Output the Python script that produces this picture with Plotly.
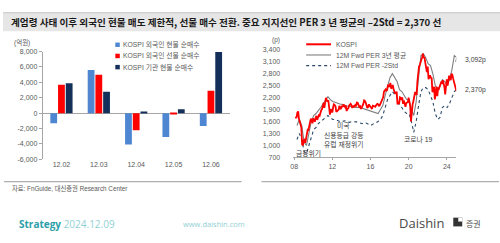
import plotly.graph_objects as go
import pandas as pd

# ---------------- data ----------------
bar_dates = ["12.02", "12.03", "12.04", "12.05", "12.06"]
foreign_spot = [-1300, 5600, -4050, -3100, -1650]
foreign_fut = [3700, 5000, -2200, -100, 2900]
inst_spot = [3900, 2800, 150, 500, 7950]
bar_names = ["KOSPI 외국인 현물 순매수", "KOSPI 외국인 선물 순매수", "KOSPI 기관 현물 순매수"]
left_tickvals = [-6000, -4000, -2000, 0, 2000, 4000, 6000, 8000]
left_ticktext = ["-6,000", "-4,000", "-2,000", "0", "2,000", "4,000", "6,000", "8,000"]

kospi = [
    1700, 1711, 1704, 1825, 1852, 1674, 1595, 1474, 1448, 1020, 1000, 1124,
    1162, 1063, 1206, 1369, 1395, 1390, 1557, 1591, 1673, 1580, 1555, 1682,
    1602, 1594, 1692, 1741, 1641, 1698, 1759, 1742, 1873, 1882, 1905, 2051,
    2069, 1939, 2107, 2192, 2142, 2101, 2133, 1880, 1770, 1909, 1848, 1826,
    1956, 2030, 2014, 1982, 1843, 1854, 1881, 1905, 1996, 1912, 1933, 1997,
    1962, 2026, 2005, 1964, 2001, 1863, 1915, 1926, 1997, 2030, 2045, 2011,
    1941, 1980, 1986, 1961, 2017, 2002, 2076, 2068, 2020, 1964, 1981, 1916,
    1949, 1986, 2041, 2127, 2114, 2074, 2030, 1941, 1963, 2029, 1992, 1961,
    1912, 1917, 1996, 1994, 1983, 1970, 2016, 2034, 2043, 2008, 1983, 2026,
    2067, 2091, 2160, 2205, 2347, 2392, 2402, 2363, 2394, 2523, 2476, 2467,
    2566, 2427, 2445, 2515, 2423, 2326, 2295, 2322, 2343, 2029, 2096, 2041,
    2204, 2195, 2140, 2203, 2041, 2130, 2025, 1967, 2063, 2083, 2087, 2197,
    2119, 1987, 1600, 1947, 2029, 2108, 2249, 2326, 2327, 2267, 2591, 2873,
    2976, 3013, 3061, 3147, 3204, 3296, 3202, 3199, 3068, 2970, 2839, 2977,
    2663, 2699, 2757, 2695, 2685, 2332, 2451, 2472, 2155, 2293, 2472, 2236,
    2425, 2412, 2476, 2501, 2577, 2564, 2632, 2556, 2465, 2277, 2535, 2655,
    2497, 2642, 2747, 2692, 2636, 2798, 2770, 2674, 2593, 2556, 2456, 2370,
]
kospi_dates = pd.date_range("2008-01-31", periods=len(kospi), freq="ME")

per_avg = [
    1500, 1650, 1500, 1080,
    1000, 1350, 1600, 1750,
    1800, 1880, 1950, 2050,
    2150, 2220, 2150, 2100,
    2080, 2050, 2040, 2030,
    2000, 1990, 1980, 1970,
    1960, 1950, 1960, 1940,
    1920, 1900, 1880, 1860,
    1850, 1840, 1800, 1900,
    2000, 2250, 2450, 2700,
    2800, 2700, 2600, 2400,
    2350, 2250, 2150, 2150,
    1900, 1750, 2100, 2700,
    3250, 3300, 3200, 3050,
    3000, 2800, 2500, 2400,
    2500, 2650, 2600, 2500,
    2650, 2900, 3250, 3200, 3092,
]
per_m2std = [
    1150, 1300, 1150, 850,
    800, 1000, 1250, 1400,
    1450, 1550, 1600, 1650,
    1700, 1750, 1700, 1650,
    1650, 1620, 1600, 1600,
    1620, 1600, 1580, 1600,
    1600, 1590, 1570, 1560,
    1540, 1560, 1520, 1500,
    1540, 1560, 1600, 1650,
    1750, 1950, 2150, 2250,
    2350, 2280, 2200, 2000,
    1950, 1850, 1800, 1800,
    1600, 1330, 1600, 2000,
    2350, 2450, 2450, 2400,
    2250, 2100, 1800, 1650,
    1700, 1950, 2000, 1950,
    2050, 2200, 2350, 2400, 2370,
]
per_dates = list(pd.date_range("2008-01-15", periods=68, freq="QS-JAN") + pd.Timedelta(days=14)) + [pd.Timestamp("2024-12-06")]
line_names = ["KOSPI", "12M Fwd PER 3년 평균", "12M Fwd PER -2Std"]
right_tickvals = [700, 1000, 1300, 1600, 1900, 2200, 2500, 2800, 3100, 3400]
right_ticktext = ["700", "1,000", "1,300", "1,600", "1,900", "2,200", "2,500", "2,800", "3,100", "3,400"]
year_ticks = ["2008-01-01", "2012-01-01", "2016-01-01", "2020-01-01", "2024-01-01"]
year_text = ["08", "12", "16", "20", "24"]

# ---------------- style ----------------
W, H = 500, 243
def px(x): return x / W
def py(y): return 1 - y / H

FONT = "Liberation Sans, Noto Sans CJK KR"
KFONT = "Noto Sans CJK KR"
TXT = "#595959"
AX = "#A6A6A6"
BLUE, RED, NAVY = "#4F86D2", "#FF0000", "#14305A"
GRAY_L, NAVY_L = "#7F7F7F", "#2B4A6A"

fig = go.Figure()
for vals, name, col in zip([foreign_spot, foreign_fut, inst_spot], bar_names, [BLUE, RED, NAVY]):
    fig.add_trace(go.Bar(x=bar_dates, y=vals, name=name, marker_color=col,
                         marker_line_width=0, xaxis="x", yaxis="y", showlegend=False))

fig.add_trace(go.Scatter(x=per_dates, y=per_m2std, mode="lines", name=line_names[2],
                         line=dict(color=NAVY_L, width=1.1, dash="dot"), xaxis="x2", yaxis="y2", showlegend=False))
fig.add_trace(go.Scatter(x=per_dates, y=per_avg, mode="lines", name=line_names[1],
                         line=dict(color=GRAY_L, width=1.1), xaxis="x2", yaxis="y2", showlegend=False))
fig.add_trace(go.Scatter(x=kospi_dates, y=kospi, mode="lines", name=line_names[0],
                         line=dict(color=RED, width=1.8), xaxis="x2", yaxis="y2", showlegend=False))

shapes = []
annotations = []

# header bar
shapes.append(dict(type="rect", xref="paper", yref="paper", x0=0, x1=1, y0=py(28), y1=py(9),
                   fillcolor="#E6E6E6", line_width=0, layer="below"))
shapes.append(dict(type="line", xref="paper", yref="paper", x0=0, x1=1, y0=py(9), y1=py(9),
                   line=dict(color="#C4C4C4", width=1)))
annotations.append(dict(xref="paper", yref="paper", x=px(6), y=py(19), xanchor="left", yanchor="middle",
                        showarrow=False, text="<b>계엄령 사태 이후 외국인 현물 매도 제한적, 선물 매수 전환. 중요 지지선인 PER 3 년 평균의 –2Std = 2,370 선</b>",
                        font=dict(family=KFONT, size=9.6, color="#1A1A1A")))

# left legend
for i, (name, col) in enumerate(zip(bar_names, [BLUE, RED, NAVY])):
    yc = [42, 53.5, 65][i]
    shapes.append(dict(type="rect", xref="paper", yref="paper", x0=px(113), x1=px(117.5),
                       y0=py(yc + 2.3), y1=py(yc - 2.3), fillcolor=col, line_width=0))
    annotations.append(dict(xref="paper", yref="paper", x=px(119), y=py(yc), xanchor="left", yanchor="middle",
                            showarrow=False, text=name, font=dict(family=FONT, size=6.8, color=TXT)))
annotations.append(dict(xref="paper", yref="paper", x=px(9), y=py(40), xanchor="left", yanchor="middle",
                        showarrow=False, text="(억원)", font=dict(family=FONT, size=6.5, color=TXT)))

# right legend
leg_styles = [dict(color=RED, width=2), dict(color=GRAY_L, width=1.1), dict(color=NAVY_L, width=1.1, dash="dot")]
for i, (name, st) in enumerate(zip(line_names, leg_styles)):
    yc = [41.5, 52.5, 63.5][i]
    shapes.append(dict(type="line", xref="paper", yref="paper", x0=px(305), x1=px(330),
                       y0=py(yc), y1=py(yc), line=st))
    annotations.append(dict(xref="paper", yref="paper", x=px(333), y=py(yc), xanchor="left", yanchor="middle",
                            showarrow=False, text=name, font=dict(family=FONT, size=6.8, color=TXT)))
annotations.append(dict(xref="paper", yref="paper", x=px(269), y=py(37), xanchor="left", yanchor="middle",
                        showarrow=False, text="(p)", font=dict(family=FONT, size=6.5, color=TXT)))

# right chart labels
for txt, x, y, anchor in [("3,092p", 463, 58, "left"), ("2,370p", 463, 89, "left"),
                          ("미국", 343, 125, "center"), ("신용등급 강등", 343, 135, "center"),
                          ("유럽 재정위기", 343, 144.5, "center"), ("금융위기", 293, 154, "left"),
                          ("코로나 19", 418, 140, "center")]:
    annotations.append(dict(xref="paper", yref="paper", x=px(x), y=py(y), xanchor=anchor, yanchor="middle",
                            showarrow=False, text=txt, font=dict(family=FONT, size=6.8, color="#404040")))

# separators and source
shapes.append(dict(type="line", xref="paper", yref="paper", x0=px(1), x1=px(240), y0=py(183), y1=py(183),
                   line=dict(color="#9A9A9A", width=1)))
shapes.append(dict(type="line", xref="paper", yref="paper", x0=px(260), x1=px(499), y0=py(183), y1=py(183),
                   line=dict(color="#9A9A9A", width=1)))
annotations.append(dict(xref="paper", yref="paper", x=px(7), y=py(189.5), xanchor="left", yanchor="middle",
                        showarrow=False, text="자료: FnGuide, 대신증권 Research Center",
                        font=dict(family=FONT, size=6.3, color=TXT)))

# footer
annotations.append(dict(xref="paper", yref="paper", x=px(14), y=py(227), xanchor="left", yanchor="middle",
                        showarrow=False,
                        text="<b>Strategy</b> <span style='color:#8FD0D4'>2024.12.09</span>",
                        font=dict(family="Open Sans", size=10, color="#2E9EA8")))
annotations.append(dict(xref="paper", yref="paper", x=px(179), y=py(227), xanchor="left", yanchor="middle",
                        showarrow=False, text="www.daishin.com",
                        font=dict(family="Open Sans", size=7.5, color="#8FCFD3")))
annotations.append(dict(xref="paper", yref="paper", x=px(396), y=py(225), xanchor="left", yanchor="middle",
                        showarrow=False, text="Daishin",
                        font=dict(family="Open Sans", size=13, color="#4A4A4A")))
shapes.append(dict(type="rect", xref="paper", yref="paper", x0=px(453), x1=px(462), y0=py(229), y1=py(220),
                   fillcolor="#333333", line_width=0))
shapes.append(dict(type="rect", xref="paper", yref="paper", x0=px(458), x1=px(462), y0=py(224), y1=py(220),
                   fillcolor="#FFFFFF", line_width=0))
annotations.append(dict(xref="paper", yref="paper", x=px(464), y=py(225.5), xanchor="left", yanchor="middle",
                        showarrow=False, text="증권",
                        font=dict(family=KFONT, size=8, color="#4A4A4A")))

fig.update_layout(
    width=W, height=H, margin=dict(l=0, r=0, t=0, b=0),
    paper_bgcolor="white", plot_bgcolor="white",
    barmode="group", bargap=0.38, bargroupgap=0.12,
    font=dict(family=FONT, size=7, color=TXT),
    showlegend=False,
    xaxis=dict(domain=[px(40), px(228)], anchor="y", type="category", range=[-0.5, 4.5],
               showline=False, showgrid=False, zeroline=False, ticks="",
               tickfont=dict(family=FONT, size=7, color=TXT)),
    yaxis=dict(domain=[py(160), py(49)], anchor="x", range=[-6000, 8000],
               tickvals=left_tickvals, ticktext=left_ticktext,
               showline=True, linecolor=AX, linewidth=1, ticks="outside", ticklen=3, tickcolor=AX,
               showgrid=False, zeroline=True, zerolinecolor=AX, zerolinewidth=1,
               tickfont=dict(family=FONT, size=7, color=TXT)),
    xaxis2=dict(domain=[px(292), px(456)], anchor="y2", type="date",
                range=["2007-11-25", "2024-12-28"],
                tickvals=year_ticks, ticktext=year_text,
                showline=True, linecolor=AX, linewidth=1, ticks="outside", ticklen=2, tickcolor=AX,
                showgrid=False, zeroline=False,
                tickfont=dict(family=FONT, size=7, color=TXT)),
    yaxis2=dict(domain=[py(158), py(47)], anchor="x2", range=[700, 3400],
                tickvals=right_tickvals, ticktext=right_ticktext,
                showline=False, showgrid=False, zeroline=False, ticks="", ticklabelstandoff=12,
                tickfont=dict(family=FONT, size=7, color=TXT)),
    shapes=shapes, annotations=annotations,
)

fig.write_html("out.html")
